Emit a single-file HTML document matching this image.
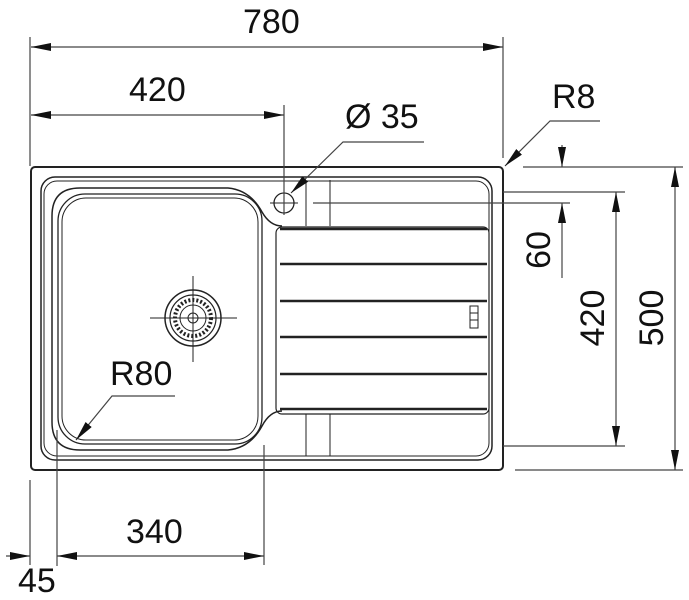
<!DOCTYPE html>
<html><head><meta charset="utf-8"><style>
html,body{margin:0;padding:0;background:#fff}
svg{display:block}
text{font-family:"Liberation Sans",Arial,sans-serif;fill:#111}
</style></head><body>
<svg width="689" height="600" viewBox="0 0 689 600" xmlns="http://www.w3.org/2000/svg">
<defs>
<marker id="a" viewBox="0 0 20 8" refX="20" refY="4" markerWidth="20" markerHeight="8" orient="auto-start-reverse" markerUnits="userSpaceOnUse">
<path d="M0,0 L20,4 L0,8 Z" fill="#111"/></marker>
</defs>
<g stroke="#222" fill="none">
<rect x="31" y="167" width="472" height="303" rx="4" stroke-width="2"/>
<rect x="41" y="177" width="451" height="283" rx="14" stroke-width="1.5"/>
<rect x="44" y="181" width="445" height="275" rx="13" stroke-width="1"/>
<!-- bowl -->
<path d="M80,188 H228 Q250,190 262,212 Q270,226 282,226" stroke-width="1.5"/>
<path d="M282,411 Q270,411 262,426 Q250,448 228,450 H80 Q52,450 52,422 V216 Q52,188 80,188" stroke-width="1.5"/>
<rect x="58" y="194" width="204" height="250" rx="27" stroke-width="1.3"/>
<rect x="62" y="198" width="196" height="242" rx="24" stroke-width="1"/>
<!-- drainer -->
<rect x="276" y="227" width="213" height="187" rx="6" stroke-width="1.2"/>
<g stroke-width="2.5">
<line x1="280" y1="229" x2="487" y2="229"/>
<line x1="280" y1="264" x2="487" y2="264"/>
<line x1="280" y1="301" x2="487" y2="301"/>
<line x1="280" y1="337" x2="487" y2="337"/>
<line x1="280" y1="374" x2="487" y2="374"/>
<line x1="280" y1="409" x2="487" y2="409"/>
</g>
<line x1="330" y1="180" x2="330" y2="226" stroke-width="1"/>
<line x1="306" y1="180" x2="306" y2="226" stroke-width="1"/>
<line x1="330" y1="414" x2="330" y2="456" stroke-width="1"/>
<line x1="306" y1="414" x2="306" y2="456" stroke-width="1"/>
<rect x="470" y="306" width="8" height="22" stroke-width="1"/>
<line x1="470" y1="313" x2="478" y2="313" stroke-width="1"/>
<line x1="470" y1="320" x2="478" y2="320" stroke-width="1"/>
<!-- hole -->
<circle cx="284" cy="203" r="10" stroke-width="1.3"/>
<line x1="270" y1="203" x2="298" y2="203" stroke-width="1"/>
<!-- drain -->
<circle cx="193" cy="318" r="28" stroke-width="1.5"/>
<circle cx="193" cy="318" r="23" stroke-width="1.2"/>
<circle cx="193" cy="318" r="18" stroke-width="4" stroke-dasharray="2 2"/>
<circle cx="193" cy="318" r="13" stroke-width="1"/>
<circle cx="193" cy="318" r="5" stroke-width="1"/>
<line x1="150" y1="318" x2="237" y2="318" stroke-width="1"/>
<line x1="193" y1="276" x2="193" y2="362" stroke-width="1"/>
</g>
<g stroke="#444" stroke-width="1.2" fill="none">
<!-- extension lines -->
<line x1="30" y1="37" x2="30" y2="166"/>
<line x1="503" y1="37" x2="503" y2="158"/>
<line x1="284" y1="105" x2="284" y2="215"/>
<line x1="523" y1="167" x2="683" y2="167"/>
<line x1="503" y1="192" x2="625" y2="192"/>
<line x1="313" y1="203" x2="570" y2="203"/>
<line x1="503" y1="446" x2="625" y2="446"/>
<line x1="515" y1="470" x2="683" y2="470"/>
<line x1="30" y1="480" x2="30" y2="565"/>
<line x1="57" y1="430" x2="57" y2="566"/>
<line x1="264" y1="445" x2="264" y2="565"/>
<!-- dims -->
<line x1="31" y1="47" x2="503" y2="47" marker-start="url(#a)" marker-end="url(#a)"/>
<line x1="31" y1="115" x2="284" y2="115" marker-start="url(#a)" marker-end="url(#a)"/>
<line x1="616" y1="192" x2="616" y2="446" marker-start="url(#a)" marker-end="url(#a)"/>
<line x1="675" y1="167" x2="675" y2="470" marker-start="url(#a)" marker-end="url(#a)"/>
<line x1="562" y1="145" x2="562" y2="167" marker-end="url(#a)"/>
<line x1="562" y1="278" x2="562" y2="203" marker-end="url(#a)"/>
<line x1="57" y1="556" x2="264" y2="556" marker-start="url(#a)" marker-end="url(#a)"/>
<line x1="6" y1="556" x2="30" y2="556" marker-end="url(#a)"/>
<!-- leaders -->
<polyline points="424,142 343,142 291,193" marker-end="url(#a)"/>
<polyline points="600,121 550,121 505,166" marker-end="url(#a)"/>
<polyline points="175,396 112,396 76,440" marker-end="url(#a)"/>
</g>
<g font-size="34">
<text x="243" y="33">780</text>
<text x="129" y="101">420</text>
<text x="345" y="128">Ø 35</text>
<text x="552" y="108">R8</text>
<text x="110" y="385">R80</text>
<text x="126" y="543">340</text>
<text x="18" y="592">45</text>
<text transform="translate(550,250) rotate(-90)" text-anchor="middle">60</text>
<text transform="translate(604,318) rotate(-90)" text-anchor="middle">420</text>
<text transform="translate(663,318) rotate(-90)" text-anchor="middle">500</text>
</g>
</svg>
</body></html>
